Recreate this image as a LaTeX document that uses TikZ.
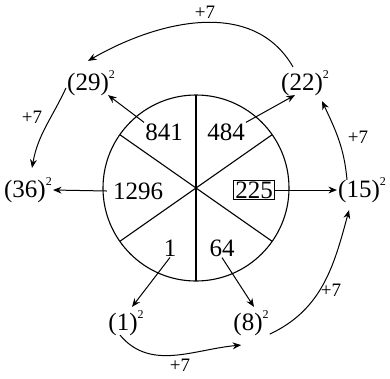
\documentclass[tikz,border=0pt]{standalone}
\usepackage{fontspec}
\setmainfont{Liberation Serif}
\usetikzlibrary{arrows.meta,calc}
\newcommand{\sqr}[1]{(#1)\raisebox{0.5em}{\fontsize{12}{12}\selectfont 2}}

\begin{document}
\begin{tikzpicture}[
    x=1pt, y=-1pt,
    every node/.style={font=\fontsize{25}{27}\selectfont, inner sep=1pt},
    boxed/.style={draw, inner sep=1.5pt, line width=0.9pt},
    plus/.style={font=\fontsize{19}{20}\selectfont},
    arr/.style={-{Stealth[length=3mm, width=2.4mm]}, line width=1pt},
    wheel/.style={line width=1.1pt}
]
\useasboundingbox (0,0) rectangle (390,378);

% the wheel
\coordinate (c) at (196,188);
\draw[wheel] (c) circle[radius=93pt];
\draw[wheel] ($(c)+(90:93pt)$) -- ($(c)+(-90:93pt)$);
\draw[wheel] ($(c)+(35:93pt)$) -- ($(c)+(215:93pt)$);
\draw[wheel] ($(c)+(145:93pt)$) -- ($(c)+(325:93pt)$);

% numbers inside
\node (n841) at (164,132) {841};
\node (n484) at (226,132) {484};
\node (n1296) at (138,191) {1296};
\node[boxed] (n225) at (254,190) {225};
\node (n1) at (170,248) {1};
\node (n64) at (222,248) {64};

% squares outside
\node (sq29) at (91,83) {\sqr{29}};
\node (sq22) at (305,83) {\sqr{22}};
\node (sq36) at (28,190) {\sqr{36}};
\node (sq15) at (362,190) {\sqr{15}};
\node (sq1) at (126,323) {\sqr{1}};
\node (sq8) at (251,323) {\sqr{8}};

% +7 steps
\node[plus] (p1) at (180,365) {+7};
\node[plus] (p2) at (331,290) {+7};
\node[plus] (p3) at (358,137) {+7};
\node[plus] (p4) at (205,12) {+7};
\node[plus] (p5) at (32,117) {+7};

% from numbers to squares
\draw[arr] (n841.north west) -- ([xshift=-8pt,yshift=2pt]sq29.south east);
\draw[arr] (n484.north east) -- ([xshift=-10pt,yshift=2pt]sq22.south);
\draw[arr] ([xshift=-5pt]n1296.west) -- (sq36.east);
\draw[arr] (n225.east) -- (sq15.west);
\draw[arr] (n1.south) -- ([xshift=6pt,yshift=2pt]sq1.north);
\draw[arr] (n64.south) -- ([xshift=3pt,yshift=2pt]sq8.north);

% +7 chain
\draw[arr] ([xshift=-6pt,yshift=2pt]sq1.south) to[out=-50, in=185] ([shift={(9pt,-8pt)}]sq8.south west);
\draw[arr] ([yshift=3pt]sq8.south east) to[out=25, in=-105] ([shift={(-13pt,-6pt)}]sq15.south);
\draw[arr] ([xshift=-15pt,yshift=-4pt]sq15.north) to[out=95, in=-65] ([shift={(-8pt,-4pt)}]sq22.south east);
\draw[arr] ([xshift=-12pt,yshift=2pt]sq22.north) to[out=120, in=30] ([shift={(-3pt,8pt)}]sq29.north);
\draw[arr] ([yshift=-5pt]sq29.west) to[out=-115, in=80] ([shift={(4pt,8pt)}]sq36.north);
\end{tikzpicture}
\end{document}
